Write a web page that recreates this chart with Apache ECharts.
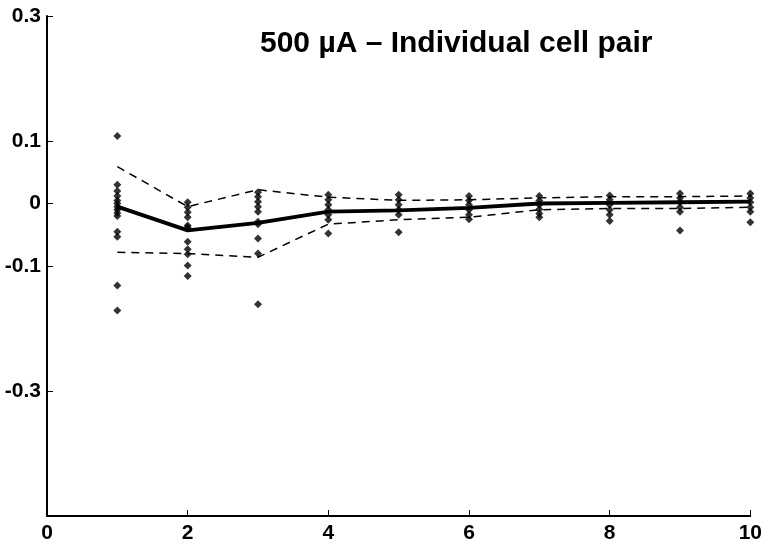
<!DOCTYPE html>
<html>
<head>
<meta charset="utf-8">
<script src="https://cdn.jsdelivr.net/npm/echarts@6/dist/echarts.min.js"></script>
<style>
html, body { margin: 0; padding: 0; background: #fff; }
#main { width: 765px; height: 546px; }
</style>
</head>
<body>
<div id="main"></div>
<script>
// stimulus number on x
var steps = [1, 2, 3, 4, 5, 6, 7, 8, 9, 10];
var pairValues = [
    [0.108, 0.030, 0.020, 0.012, 0.005, 0, -0.005, -0.010, -0.015, -0.020, -0.045, -0.053, -0.131, -0.171],
    [0.002, -0.006, -0.014, -0.022, -0.035, -0.038, -0.061, -0.073, -0.081, -0.099, -0.116],
    [0.018, 0.011, 0.003, -0.005, -0.013, -0.029, -0.033, -0.056, -0.080, -0.161],
    [0.014, 0.006, -0.002, -0.010, -0.018, -0.026, -0.048],
    [0.014, 0.006, -0.002, -0.010, -0.018, -0.046],
    [0.012, 0.005, -0.002, -0.010, -0.018, -0.025],
    [0.012, 0.005, -0.002, -0.009, -0.016, -0.022],
    [0.013, 0.006, -0.002, -0.010, -0.018, -0.028],
    [0.016, 0.009, 0.002, -0.006, -0.013, -0.043],
    [0.016, 0.009, 0.002, -0.006, -0.013, -0.030]
];
var meanLine = [-0.005, -0.043, -0.031, -0.013, -0.011, -0.007, 0.000, 0.001, 0.002, 0.003];
var upperBand = [0.059, -0.005, 0.022, 0.010, 0.005, 0.006, 0.009, 0.011, 0.011, 0.012];
var lowerBand = [-0.078, -0.080, -0.086, -0.033, -0.026, -0.022, -0.010, -0.008, -0.008, -0.006];
var yTicks = [0.3, 0.1, 0, -0.1, -0.3];

var scatterData = [];
steps.forEach(function (s, i) {
    pairValues[i].forEach(function (v) { scatterData.push([s, v]); });
});
function pairs(arr) { return steps.map(function (s, i) { return [s, arr[i]]; }); }

var labelFont = {
    color: '#000',
    fontFamily: 'Liberation Sans Narrow, Liberation Sans, Arial',
    fontWeight: 'bold',
    fontSize: 21
};

var option = {
    animation: false,
    backgroundColor: '#fff',
    title: {
        text: '500 µA – Individual cell pair',
        left: 255,
        top: 24,
        textStyle: {
            color: '#000',
            fontFamily: 'Liberation Sans, Arial',
            fontWeight: 'bold',
            fontSize: 30
        }
    },
    grid: { left: 47, right: 13, top: 16, bottom: 30 },
    xAxis: {
        type: 'value',
        min: 0,
        max: 10,
        interval: 2,
        axisLine: { onZero: false, lineStyle: { color: '#000', width: 2 } },
        axisTick: { inside: true, length: 6, lineStyle: { color: '#000', width: 1 } },
        axisLabel: Object.assign({ margin: 7, showMinLabel: true, showMaxLabel: true }, labelFont),
        splitLine: { show: false }
    },
    yAxis: {
        type: 'value',
        min: -0.5,
        max: 0.3,
        interval: 0.1,
        axisLine: { show: true, lineStyle: { color: '#000', width: 2 } },
        axisTick: { show: true, inside: true, length: 6, customValues: yTicks, lineStyle: { color: '#000', width: 1 } },
        axisLabel: Object.assign({ margin: 6, customValues: yTicks, formatter: function (v) { return v === 0 ? '0' : String(v); } }, labelFont),
        splitLine: { show: false }
    },
    series: [
        {
            type: 'line',
            data: pairs(upperBand),
            symbol: 'none',
            lineStyle: { color: '#000', width: 1.5, type: [8, 6] },
            z: 2
        },
        {
            type: 'line',
            data: pairs(lowerBand),
            symbol: 'none',
            lineStyle: { color: '#000', width: 1.5, type: [8, 6] },
            z: 2
        },
        {
            type: 'line',
            data: pairs(meanLine),
            symbol: 'none',
            lineStyle: { color: '#000', width: 4 },
            z: 3
        },
        {
            type: 'scatter',
            data: scatterData,
            symbol: 'diamond',
            symbolSize: 8,
            itemStyle: { color: '#000' },
            z: 4
        }
    ]
};
var myChart = echarts.init(document.getElementById('main'));
myChart.setOption(option);
</script>
</body>
</html>
